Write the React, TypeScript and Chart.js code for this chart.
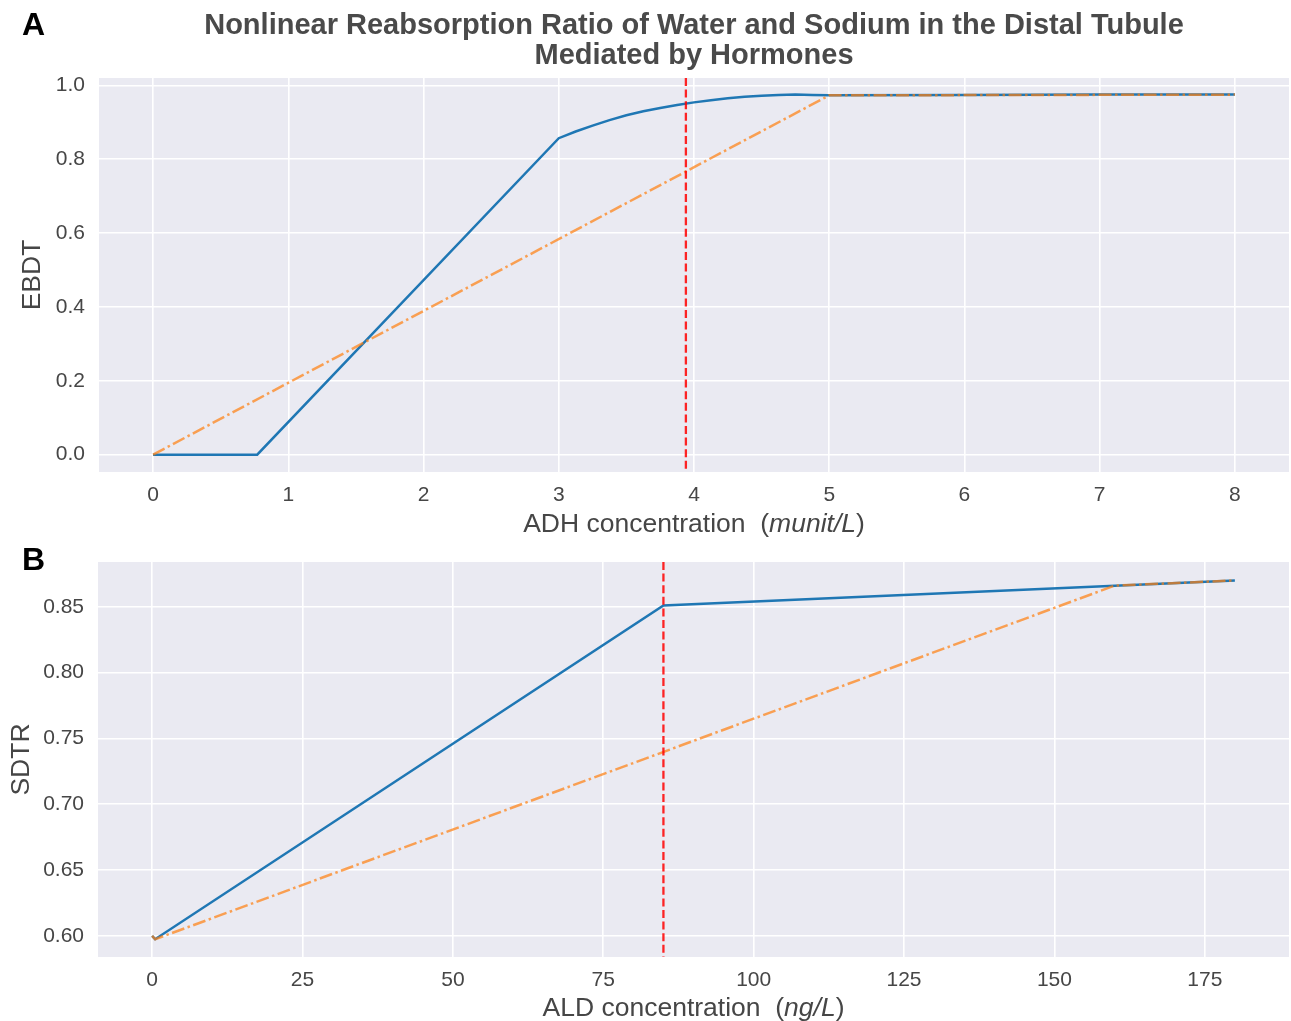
import React, { useEffect, useRef } from "react";
import { Chart, registerables } from "chart.js";

Chart.register(...registerables);

// ---------- Data: panel A (ADH) ----------
const ADH_BLUE_X = [0, 0.77, 3, 3.125, 3.25, 3.375, 3.5, 3.625, 3.75, 3.875, 4, 4.125, 4.25, 4.375, 4.5, 4.625, 4.75, 4.875, 5, 6, 7, 8];
const ADH_BLUE_Y = [0, 0, 0.857, 0.875, 0.891, 0.906, 0.919, 0.93, 0.939, 0.947, 0.954, 0.96, 0.965, 0.969, 0.972, 0.974, 0.975, 0.974, 0.973, 0.974, 0.975, 0.975];
const ADH_ORANGE_X = [0, 5, 8];
const ADH_ORANGE_Y = [0, 0.973, 0.975];
const ADH_THRESHOLD = 3.94;
const ADH_X_TICKS = [0, 1, 2, 3, 4, 5, 6, 7, 8];
const EBDT_TICKS = [0, 0.2, 0.4, 0.6, 0.8, 1.0];

// ---------- Data: panel B (ALD) ----------
const ALD_BLUE_X = [0, 0.5, 85, 180];
const ALD_BLUE_Y = [0.6, 0.5975, 0.851, 0.87];
const ALD_ORANGE_X = [0, 0.5, 160, 180];
const ALD_ORANGE_Y = [0.6, 0.5975, 0.866, 0.87];
const ALD_THRESHOLD = 85;
const ALD_X_TICKS = [0, 25, 50, 75, 100, 125, 150, 175];
const SDTR_TICKS = [0.6, 0.65, 0.7, 0.75, 0.8, 0.85];

const TITLE_LINES = [
  "Nonlinear Reabsorption Ratio of Water and Sodium in the Distal Tubule",
  "Mediated by Hormones",
];

const FONT = "'Liberation Sans', Arial, Helvetica, sans-serif";
const TEXT_COLOR = "#464646";
const BG = "#EAEAF2";
const BLUE = "#1f77b4";
const ORANGE = "rgba(255,127,14,0.7)";
const RED = "rgba(255,0,0,0.85)";

type Part = { text: string; italic: boolean };

interface PanelSpec {
  width: number;
  height: number;
  top: number;
  padTop: number;
  plotBottom: number; // in canvas coords
  yAxisWidth: number;
  xMin: number;
  xMax: number;
  yMin: number;
  yMax: number;
  xTicks: number[];
  yTicks: number[];
  yDecimals: number;
  blueX: number[];
  blueY: number[];
  orangeX: number[];
  orangeY: number[];
  threshold: number;
  letter: string;
  letterBaseline: number;
  title?: string[];
  titleBaselines?: number[];
  xLabel: Part[];
  xLabelBaseline: number;
  yLabel: string;
  yLabelX: number;
}

function pts(xs: number[], ys: number[]) {
  return xs.map((x, i) => ({ x, y: ys[i] }));
}

function Panel({ spec }: { spec: PanelSpec }) {
  const ref = useRef<HTMLCanvasElement | null>(null);
  useEffect(() => {
    if (!ref.current) return;
    const s = spec;
    const decor = {
      id: "decor",
      beforeDraw(chart: any) {
        const { ctx, chartArea } = chart;
        ctx.save();
        ctx.fillStyle = BG;
        ctx.fillRect(chartArea.left, chartArea.top, chartArea.right - chartArea.left, chartArea.bottom - chartArea.top);
        ctx.restore();
      },
      afterDatasetsDraw(chart: any) {
        const { ctx, chartArea } = chart;
        const xs = chart.scales.x;
        const px = xs.getPixelForValue(s.threshold);
        ctx.save();
        ctx.beginPath();
        ctx.rect(chartArea.left, chartArea.top, chartArea.right - chartArea.left, chartArea.bottom - chartArea.top);
        ctx.clip();
        ctx.strokeStyle = RED;
        ctx.lineWidth = 2.3;
        ctx.setLineDash([8, 3.6]);
        ctx.beginPath();
        ctx.moveTo(px, chartArea.top);
        ctx.lineTo(px, chartArea.bottom);
        ctx.stroke();
        ctx.restore();
      },
      afterDraw(chart: any) {
        const { ctx, chartArea } = chart;
        const cx = (chartArea.left + chartArea.right) / 2;
        const cy = (chartArea.top + chartArea.bottom) / 2;
        ctx.save();
        // panel letter
        ctx.fillStyle = "#000";
        ctx.font = `bold 32px ${FONT}`;
        ctx.textAlign = "left";
        ctx.textBaseline = "alphabetic";
        ctx.fillText(s.letter, 22, s.letterBaseline);
        // title
        if (s.title && s.titleBaselines) {
          ctx.fillStyle = "#4a4a4a";
          ctx.font = `bold 29px ${FONT}`;
          ctx.textAlign = "center";
          s.title.forEach((line, i) => ctx.fillText(line, cx, s.titleBaselines![i]));
        }
        // x label (mixed italic)
        ctx.fillStyle = TEXT_COLOR;
        ctx.textAlign = "left";
        const normal = `26.5px ${FONT}`;
        const italic = `italic 26.5px ${FONT}`;
        let total = 0;
        const widths = s.xLabel.map((p) => {
          ctx.font = p.italic ? italic : normal;
          const w = ctx.measureText(p.text).width;
          total += w;
          return w;
        });
        let x = cx - total / 2;
        s.xLabel.forEach((p, i) => {
          ctx.font = p.italic ? italic : normal;
          ctx.fillText(p.text, x, s.xLabelBaseline);
          x += widths[i];
        });
        // y label
        ctx.font = normal;
        ctx.textAlign = "center";
        ctx.textBaseline = "middle";
        ctx.translate(s.yLabelX, cy);
        ctx.rotate(-Math.PI / 2);
        ctx.fillText(s.yLabel, 0, 0);
        ctx.restore();
      },
    };

    const tickFont = { family: FONT, size: 21 };
    const chart = new Chart(ref.current, {
      type: "line",
      data: {
        datasets: [
          {
            label: "orange",
            data: pts(s.orangeX, s.orangeY),
            borderColor: ORANGE,
            borderWidth: 2.5,
            borderDash: [13, 3.5, 2.5, 3.5],
            pointRadius: 0,
            tension: 0,
            fill: false,
            order: 0,
          },
          {
            label: "blue",
            data: pts(s.blueX, s.blueY),
            borderColor: BLUE,
            borderWidth: 2.5,
            pointRadius: 0,
            tension: 0,
            fill: false,
            order: 1,
          },
        ],
      },
      options: {
        animation: false,
        responsive: false,
        devicePixelRatio: 1,
        events: [],
        parsing: false as any,
        layout: { padding: { top: s.padTop, left: 0, right: 2, bottom: 0 } },
        plugins: {
          legend: { display: false },
          tooltip: { enabled: false },
          title: { display: false },
        },
        scales: {
          x: {
            type: "linear",
            min: s.xMin,
            max: s.xMax,
            border: { display: false },
            grid: { color: "#ffffff", lineWidth: 1.6, drawTicks: false },
            ticks: {
              font: tickFont,
              color: TEXT_COLOR,
              padding: 11,
              autoSkip: false,
              maxRotation: 0,
              callback: (v: any) => String(Number(v)),
            },
            afterBuildTicks: (scale: any) => {
              scale.ticks = s.xTicks.map((v) => ({ value: v }));
            },
            afterFit: (scale: any) => {
              scale.height = s.height - s.plotBottom;
              scale.paddingLeft = 0;
              scale.paddingRight = 0;
            },
          },
          y: {
            type: "linear",
            min: s.yMin,
            max: s.yMax,
            border: { display: false },
            grid: { color: "#ffffff", lineWidth: 1.6, drawTicks: false },
            ticks: {
              font: tickFont,
              color: TEXT_COLOR,
              padding: 14,
              autoSkip: false,
              callback: (v: any) => Number(v).toFixed(s.yDecimals),
            },
            afterBuildTicks: (scale: any) => {
              scale.ticks = s.yTicks.map((v) => ({ value: v }));
            },
            afterFit: (scale: any) => {
              scale.width = s.yAxisWidth;
              scale.paddingTop = 0;
              scale.paddingBottom = 0;
            },
          },
        },
      },
      plugins: [decor],
    } as any);
    return () => chart.destroy();
  }, [spec]);

  return (
    <canvas
      ref={ref}
      width={spec.width}
      height={spec.height}
      style={{ position: "absolute", left: 0, top: spec.top, width: spec.width, height: spec.height }}
    />
  );
}

const TOP_SPEC: PanelSpec = {
  width: 1291,
  height: 540,
  top: 0,
  padTop: 78,
  plotBottom: 472,
  yAxisWidth: 99,
  xMin: -0.4,
  xMax: 8.4,
  yMin: -0.047,
  yMax: 1.02,
  xTicks: ADH_X_TICKS,
  yTicks: EBDT_TICKS,
  yDecimals: 1,
  blueX: ADH_BLUE_X,
  blueY: ADH_BLUE_Y,
  orangeX: ADH_ORANGE_X,
  orangeY: ADH_ORANGE_Y,
  threshold: ADH_THRESHOLD,
  letter: "A",
  letterBaseline: 35,
  title: TITLE_LINES,
  titleBaselines: [33.5, 63.5],
  xLabel: [
    { text: "ADH concentration  (", italic: false },
    { text: "munit/L", italic: true },
    { text: ")", italic: false },
  ],
  xLabelBaseline: 531.5,
  yLabel: "EBDT",
  yLabelX: 33,
};

const BOTTOM_SPEC: PanelSpec = {
  width: 1291,
  height: 481,
  top: 540,
  padTop: 22,
  plotBottom: 417,
  yAxisWidth: 98,
  xMin: -9,
  xMax: 189,
  yMin: 0.584,
  yMax: 0.884,
  xTicks: ALD_X_TICKS,
  yTicks: SDTR_TICKS,
  yDecimals: 2,
  blueX: ALD_BLUE_X,
  blueY: ALD_BLUE_Y,
  orangeX: ALD_ORANGE_X,
  orangeY: ALD_ORANGE_Y,
  threshold: ALD_THRESHOLD,
  letter: "B",
  letterBaseline: 30,
  xLabel: [
    { text: "ALD concentration  (", italic: false },
    { text: "ng/L", italic: true },
    { text: ")", italic: false },
  ],
  xLabelBaseline: 476,
  yLabel: "SDTR",
  yLabelX: 22,
};

export default function App() {
  return (
    <div style={{ position: "absolute", left: 0, top: 0, width: 1291, height: 1021, background: "#ffffff", overflow: "hidden" }}>
      <Panel spec={TOP_SPEC} />
      <Panel spec={BOTTOM_SPEC} />
    </div>
  );
}
